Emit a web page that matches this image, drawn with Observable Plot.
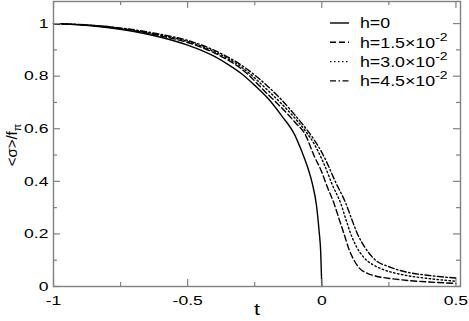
<!DOCTYPE html>
<html><head><meta charset="utf-8">
<script src="https://cdn.jsdelivr.net/npm/d3@7"></script>
<script src="https://cdn.jsdelivr.net/npm/@observablehq/plot@0.6"></script>
<style>body{margin:0;background:#fff} svg{display:block}</style>
</head><body><div id="chart"></div>
<script>
// h = 0 (solid)
const t0 = [-1, -0.9, -0.8, -0.7, -0.6, -0.5, -0.4, -0.35, -0.3, -0.25, -0.2, -0.15, -0.1, -0.075, -0.05, -0.035, -0.02, -0.01, -0.004, 0];
const v0 = [1.0, 0.995, 0.985, 0.97, 0.948, 0.918, 0.875, 0.845, 0.81, 0.765, 0.715, 0.65, 0.575, 0.515, 0.445, 0.39, 0.31, 0.21, 0.13, 0];
// h = 1.5e-2 (dashed)
const t1 = [-1, -0.8, -0.6, -0.5, -0.4, -0.3, -0.2, -0.15, -0.1, -0.06, -0.03, 0, 0.02, 0.046, 0.065, 0.083, 0.1, 0.12, 0.14, 0.17, 0.2, 0.257, 0.3, 0.4, 0.5];
const v1 = [1.0, 0.987, 0.953, 0.928, 0.888, 0.828, 0.73, 0.68, 0.625, 0.575, 0.5, 0.435, 0.38, 0.315, 0.255, 0.2, 0.145, 0.1, 0.07, 0.05, 0.04, 0.03, 0.025, 0.017, 0.012];
// h = 3.0e-2 (dotted)
const t2 = [-1, -0.8, -0.6, -0.5, -0.4, -0.3, -0.2, -0.15, -0.1, -0.06, -0.03, 0, 0.008, 0.04, 0.071, 0.09, 0.108, 0.13, 0.157, 0.19, 0.22, 0.3, 0.4, 0.5];
const v2 = [1.0, 0.988, 0.956, 0.932, 0.893, 0.835, 0.745, 0.695, 0.64, 0.59, 0.545, 0.485, 0.467, 0.385, 0.315, 0.255, 0.2, 0.15, 0.11, 0.083, 0.068, 0.045, 0.03, 0.02];
// h = 4.5e-2 (dash-dot)
const t3 = [-1, -0.8, -0.6, -0.5, -0.4, -0.3, -0.2, -0.15, -0.1, -0.06, -0.03, 0, 0.021, 0.05, 0.09, 0.11, 0.133, 0.16, 0.194, 0.257, 0.32, 0.4, 0.5];
const v3 = [1.0, 0.989, 0.959, 0.936, 0.898, 0.842, 0.76, 0.71, 0.652, 0.602, 0.56, 0.51, 0.467, 0.40, 0.315, 0.26, 0.2, 0.15, 0.106, 0.073, 0.054, 0.042, 0.032];

const legendBase = ["h=0", "h=1.5×10", "h=3.0×10", "h=4.5×10"];
const legendSup = ["", "-2", "-2", "-2"];
const dashes = [undefined, "6,3", "1.5,2.5", "6,2.5,1.5,2.5"];

const xMajor = [-1, -0.5, 0, 0.5];
const xMinor = [-0.75, -0.25, 0.25];
const yMajor = [0, 0.2, 0.4, 0.6, 0.8, 1];
const yMinor = [0.1, 0.3, 0.5, 0.7, 0.9];

const seriesT = [t0, t1, t2, t3];
const seriesV = [v0, v1, v2, v3];
const rows = seriesT.flatMap((ts, i) => ts.map((t, j) => ({s: i, t, v: seriesV[i][j]})));

const W = 469, H = 321, mT = 1, mB = 35, mL = 53, mR = 9;
const plotH = H - mT - mB, plotW = W - mL - mR;
const gray = "#808080";
const FONT = "'Liberation Sans', Arial, Helvetica, sans-serif";
const majLen = 7, minLen = 4;

const chart = Plot.plot({
  width: W, height: H,
  marginTop: mT, marginBottom: mB, marginLeft: mL, marginRight: mR,
  style: {fontFamily: FONT, fontSize: "13px", color: "#000", background: "#fff"},
  x: {domain: [-1, 0.517]},
  y: {domain: [0, 1.084]},
  marks: [
    ...[0, 1, 2, 3].map(i => Plot.line(rows.filter(r => r.s === i), {
      x: "t", y: "v", stroke: "#000", strokeWidth: 1.4,
      strokeDasharray: dashes[i], curve: "monotone-x"
    })),
    Plot.ruleX(xMajor, {x: d => d, insetTop: plotH - majLen, stroke: gray, strokeWidth: 1.2}),
    Plot.ruleX(xMinor, {x: d => d, insetTop: plotH - minLen, stroke: gray, strokeWidth: 1.2}),
    Plot.ruleX(xMajor, {x: d => d, insetBottom: plotH - majLen, stroke: gray, strokeWidth: 1.2}),
    Plot.ruleX(xMinor, {x: d => d, insetBottom: plotH - minLen, stroke: gray, strokeWidth: 1.2}),
    Plot.ruleY(yMajor, {y: d => d, insetRight: plotW - majLen, stroke: gray, strokeWidth: 1.2}),
    Plot.ruleY(yMinor, {y: d => d, insetRight: plotW - minLen, stroke: gray, strokeWidth: 1.2}),
    Plot.ruleY(yMajor, {y: d => d, insetLeft: plotW - majLen, stroke: gray, strokeWidth: 1.2}),
    Plot.ruleY(yMinor, {y: d => d, insetLeft: plotW - minLen, stroke: gray, strokeWidth: 1.2}),
    Plot.axisX({ticks: xMajor, tickSize: 0, tickPadding: 9, tickFormat: d => String(d), label: null, fontSize: 13}),
    Plot.axisY({ticks: yMajor, tickSize: 0, tickPadding: 5, tickFormat: d => String(d), label: null, fontSize: 13}),
    Plot.text(["t"], {frameAnchor: "bottom", dy: 28, fontSize: 16}),
    Plot.frame({stroke: gray, strokeWidth: 1.4})
  ]
});
document.getElementById("chart").appendChild(chart);

const svg = d3.select(chart);
// legend
const lg = svg.append("g").attr("font-family", FONT).attr("font-size", 14).attr("text-anchor", "start");
legendBase.forEach((lab, i) => {
  const y = 23 + i * 19.3;
  lg.append("line").attr("x1", 330).attr("x2", 349).attr("y1", y).attr("y2", y)
    .attr("stroke", "#000").attr("stroke-width", 1.4)
    .attr("stroke-dasharray", dashes[i] || null);
  const tx = lg.append("text").attr("class", "lgtext").attr("x", 360).attr("y", y + 5.5).text(lab);
  if (legendSup[i]) tx.append("tspan").attr("dy", -7).attr("font-size", 11).text(legendSup[i]);
});
// y label
const yl = svg.append("text").attr("class", "ylab")
  .attr("transform", "translate(17,145) rotate(-90)")
  .attr("text-anchor", "middle").attr("font-family", FONT).attr("font-size", 15)
  .text("<σ>/f");
yl.append("tspan").attr("dy", 4).attr("font-size", 11).text("π");

// horizontal stretch of text to mimic the reference rendering
chart.querySelectorAll("text").forEach(el => {
  if (el.classList.contains("ylab")) return;
  const s = el.classList.contains("lgtext") ? 1.27 : 1.35;
  const bb = el.getBBox();
  const anchor = getComputedStyle(el).textAnchor;
  const ax = anchor === "middle" ? bb.x + bb.width / 2 : anchor === "end" ? bb.x + bb.width : bb.x;
  const tr = el.getAttribute("transform") || "";
  el.setAttribute("transform", `${tr} translate(${ax},0) scale(${s},1) translate(${-ax},0)`);
});
</script>
</body></html>
